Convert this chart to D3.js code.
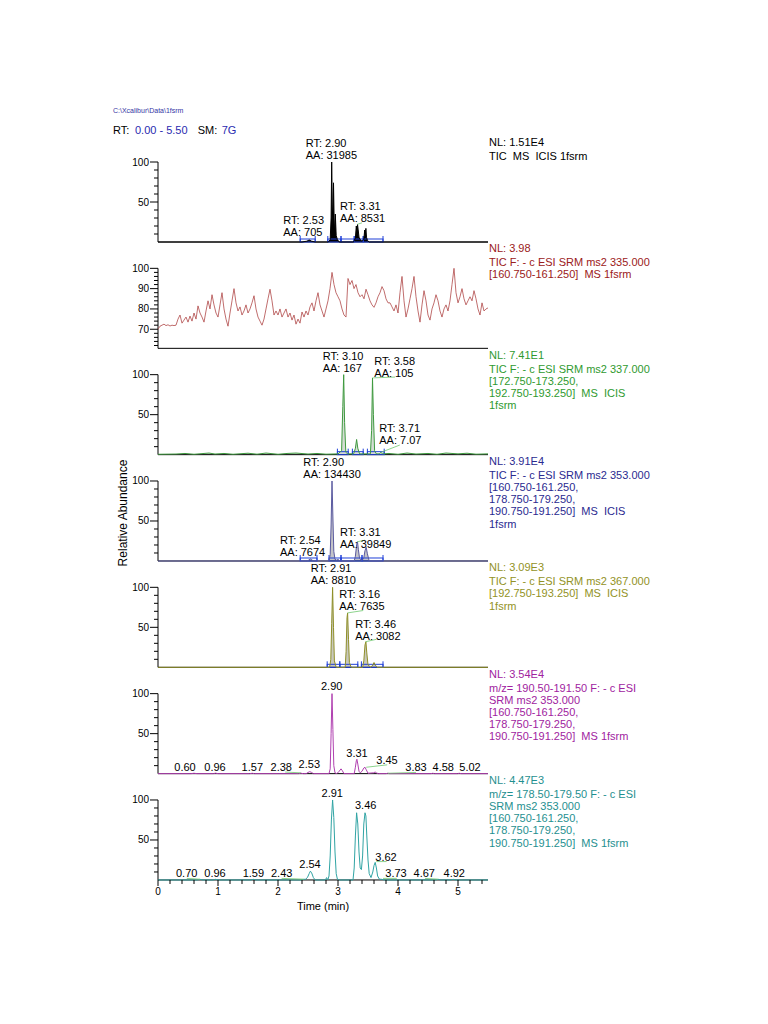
<!DOCTYPE html>
<html><head><meta charset="utf-8">
<script src="https://cdn.jsdelivr.net/npm/d3@7"></script>
<style>
body{margin:0;background:#fff}
svg text{font-family:"Liberation Sans",Arial,Helvetica,sans-serif;white-space:pre}
</style>
</head><body>
<svg id="c" width="768" height="1024"></svg>
<script>
// ---------------- DATA ----------------
const filePath = "C:\\Xcalibur\\Data\\1fsrm";
const rtRange = "0.00 - 5.50";
const smoothing = "7G";
const timeDomain = [0, 5.5];
const xTickValues = [0, 1, 2, 3, 4, 5];
const yTickLabels = [50, 100];
const noiseTickLabels = [70, 80, 90, 100];

// Panel 1: TIC MS ICIS
const p1T = [0, 2.40, 2.48, 2.52, 2.56, 2.62, 2.84, 2.87, 2.885, 2.895, 2.905, 2.915, 2.925, 2.935, 2.945, 2.955, 2.97, 2.99, 3.02, 3.26, 3.29, 3.305, 3.315, 3.325, 3.335, 3.35, 3.37, 3.40, 3.43, 3.445, 3.455, 3.465, 3.475, 3.49, 3.52, 5.5];
const p1V = [0, 0, 1, 2.5, 1, 0, 0, 3, 30, 100, 45, 20, 74, 30, 10, 35, 8, 3, 0, 0, 5, 20, 12, 22, 16, 6, 3, 1, 3, 15, 9, 17, 6, 2, 0, 0];
// Panel 2: SRM 335 (noise), sampled every 1/30 min
const p2Step = 1 / 30;
const p2V = [70, 71.5, 72, 72.5, 71.8, 72.2, 71.6, 72, 71.8, 72,
  75, 77, 73, 74.5, 76, 73.5, 76.5, 74, 78, 75,
  81.5, 78, 76, 73.5, 79, 84, 80, 87, 82, 78,
  76, 82, 88, 80, 75, 71.5, 78, 84, 90, 83,
  79, 81, 77, 79, 82, 78, 80, 83, 86.5, 80,
  76, 74, 72, 75, 80, 85, 89.7, 84, 77, 79,
  77, 80, 76, 78, 80, 76, 78, 74.5, 77, 72.5,
  75, 73, 78.5, 76, 79, 77, 81, 83, 79, 84,
  88, 82, 79, 76, 80, 84, 90, 98, 92, 88,
  86, 84, 80, 77, 76, 95, 92, 94, 90, 92,
  88, 86, 87, 85, 89.7, 87, 84, 82, 80.8, 83,
  86, 88, 91, 89, 85, 83, 83, 81, 79, 82,
  78, 88, 96, 84, 76, 80, 85, 90, 96, 86,
  79, 73.5, 82, 89, 84, 77, 74.5, 80, 83, 87,
  84, 79, 76, 80, 82, 79, 84, 92, 100, 88,
  83, 86, 90, 85, 82, 84, 86, 84, 89, 85,
  80, 77, 83, 79, 80, 80.5];
// Panel 3: SRM 337
const p3T = [0, 0.3, 0.45, 0.6, 0.85, 0.95, 1.1, 1.25, 1.5, 1.65, 1.8, 2.0, 2.15, 2.3, 2.5, 2.65, 2.8, 3.0, 3.06, 3.08, 3.095, 3.11, 3.13, 3.16, 3.26, 3.29, 3.31, 3.33, 3.36, 3.54, 3.56, 3.575, 3.59, 3.61, 3.64, 3.69, 3.715, 3.74, 3.85, 4.0, 4.15, 4.3, 4.5, 4.65, 4.8, 5.0, 5.15, 5.3, 5.5];
const p3V = [0.5, 0.8, 1.5, 0.5, 2, 0.8, 1.5, 0.5, 1.8, 0.6, 2, 0.5, 1.5, 2, 0.8, 1.5, 0.6, 1, 5, 60, 100, 40, 3, 1, 1, 8, 19, 8, 1, 1, 30, 96, 50, 5, 1, 1, 3, 1, 1.5, 0.5, 2, 0.8, 1.5, 0.5, 2, 1, 1.8, 0.6, 1];
// Panel 4: SRM 353 TIC
const p4T = [0, 2.48, 2.51, 2.54, 2.57, 2.60, 2.85, 2.87, 2.885, 2.90, 2.915, 2.93, 2.95, 2.98, 3.0, 3.03, 3.27, 3.29, 3.31, 3.325, 3.34, 3.36, 3.40, 3.43, 3.45, 3.47, 3.49, 3.52, 5.5];
const p4V = [0, 0, 1, 2.5, 1, 0, 0, 8, 45, 100, 55, 12, 2, 1, 2, 0, 0, 6, 20, 24, 14, 3, 0.5, 4, 13, 17, 9, 0, 0];
// Panel 5: SRM 367
const p5T = [0, 2.86, 2.88, 2.895, 2.91, 2.925, 2.94, 2.97, 3.12, 3.135, 3.15, 3.16, 3.175, 3.19, 3.22, 3.41, 3.43, 3.45, 3.465, 3.48, 3.50, 3.55, 3.58, 3.60, 3.62, 3.65, 5.5];
const p5V = [0, 0, 10, 55, 100, 50, 8, 0, 0, 20, 62, 68, 35, 6, 0, 0, 8, 28, 32, 18, 3, 0, 3, 6, 3, 0, 0];
// Panel 6: m/z 190.50-191.50
const p6T = [0, 0.55, 0.6, 0.65, 0.92, 0.96, 1.0, 1.53, 1.57, 1.61, 2.34, 2.38, 2.42, 2.47, 2.50, 2.53, 2.56, 2.59, 2.85, 2.87, 2.885, 2.90, 2.915, 2.93, 2.95, 2.98, 3.02, 3.05, 3.07, 3.10, 3.27, 3.29, 3.305, 3.315, 3.33, 3.35, 3.37, 3.40, 3.43, 3.45, 3.47, 3.50, 3.59, 3.62, 3.64, 3.67, 3.80, 3.83, 3.86, 4.55, 4.58, 4.61, 4.99, 5.02, 5.05, 5.5];
const p6V = [0, 0, 0.5, 0, 0, 0.6, 0, 0, 0.5, 0, 0, 0.6, 0, 0, 1.5, 2.5, 1.5, 0, 0, 6, 50, 100, 55, 10, 1, 0, 3, 6, 4, 0, 0, 8, 16, 18, 12, 3, 1, 3, 7, 8, 5, 0.5, 1, 2, 1, 0, 0, 0.5, 0, 0, 0.5, 0, 0, 0.5, 0, 0];
// Panel 7: m/z 178.50-179.50
const p7T = [0, 0.66, 0.70, 0.74, 0.92, 0.96, 1.0, 1.55, 1.59, 1.63, 2.39, 2.43, 2.46, 2.49, 2.52, 2.54, 2.56, 2.59, 2.62, 2.79, 2.81, 2.83, 2.85, 2.87, 2.89, 2.91, 2.93, 2.95, 2.97, 2.99, 3.02, 3.25, 3.27, 3.29, 3.31, 3.33, 3.35, 3.37, 3.39, 3.41, 3.43, 3.45, 3.465, 3.48, 3.50, 3.52, 3.55, 3.58, 3.60, 3.62, 3.64, 3.66, 3.69, 3.73, 3.77, 4.63, 4.67, 4.71, 4.88, 4.92, 4.96, 5.5];
const p7V = [0, 0, 0.8, 0, 0, 0.8, 0, 0, 0.8, 0, 0, 0.8, 1, 3, 8, 11, 9, 3, 0, 0, 3, 0, 5, 30, 75, 100, 78, 35, 8, 1, 0, 0, 15, 55, 84, 70, 35, 15, 13, 30, 70, 84, 80, 55, 25, 8, 3, 10, 18, 22, 15, 5, 1, 0.8, 0, 0, 0.8, 0, 0, 0.8, 0, 0];

// Panel header texts
const p1Info = ["NL: 1.51E4", "TIC  MS  ICIS 1fsrm"];
const p2Info = ["NL: 3.98", "TIC F: - c ESI SRM ms2 335.000", "[160.750-161.250]  MS 1fsrm"];
const p3Info = ["NL: 7.41E1", "TIC F: - c ESI SRM ms2 337.000", "[172.750-173.250,", "192.750-193.250]  MS  ICIS", "1fsrm"];
const p4Info = ["NL: 3.91E4", "TIC F: - c ESI SRM ms2 353.000", "[160.750-161.250,", "178.750-179.250,", "190.750-191.250]  MS  ICIS", "1fsrm"];
const p5Info = ["NL: 3.09E3", "TIC F: - c ESI SRM ms2 367.000", "[192.750-193.250]  MS  ICIS", "1fsrm"];
const p6Info = ["NL: 3.54E4", "m/z= 190.50-191.50 F: - c ESI", "SRM ms2 353.000", "[160.750-161.250,", "178.750-179.250,", "190.750-191.250]  MS 1fsrm"];
const p7Info = ["NL: 4.47E3", "m/z= 178.50-179.50 F: - c ESI", "SRM ms2 353.000", "[160.750-161.250,", "178.750-179.250,", "190.750-191.250]  MS 1fsrm"];

// Peak annotations
const p1Peaks = [["RT: 2.90", "AA: 31985"], ["RT: 3.31", "AA: 8531"], ["RT: 2.53", "AA: 705"]];
const p3Peaks = [["RT: 3.10", "AA: 167"], ["RT: 3.58", "AA: 105"], ["RT: 3.71", "AA: 7.07"]];
const p4Peaks = [["RT: 2.90", "AA: 134430"], ["RT: 3.31", "AA: 39849"], ["RT: 2.54", "AA: 7674"]];
const p5Peaks = [["RT: 2.91", "AA: 8810"], ["RT: 3.16", "AA: 7635"], ["RT: 3.46", "AA: 3082"]];
const p6Peaks = ["0.60", "0.96", "1.57", "2.38", "2.53", "2.90", "3.31", "3.45", "3.83", "4.58", "5.02"];
const p7Peaks = ["0.70", "0.96", "1.59", "2.43", "2.54", "2.91", "3.46", "3.62", "3.73", "4.67", "4.92"];

// Integration windows (min)
const p1Integ = [[2.37, 2.62], [2.83, 3.05], [3.05, 3.27], [3.27, 3.42], [3.42, 3.75]];
const p3Integ = [[2.99, 3.17], [3.24, 3.42], [3.49, 3.77]];
const p4Integ = [[2.37, 2.65], [2.85, 3.05], [3.05, 3.40], [3.40, 3.75]];
const p5Integ = [[2.82, 3.03], [3.03, 3.33], [3.39, 3.75]];

// ---------------- LAYOUT (label placement in data units) ----------------
const p1LabelPos = [[2.462, 123.4], [3.033, 45], [2.088, 27.5]];
const p3LabelPos = [[2.745, 123.6], [3.605, 117.4], [3.688, 33.6]];
const p4LabelPos = [[2.422, 124.1], [3.033, 36.6], [2.033, 26.3]];
const p5LabelPos = [[2.545, 123.4], [3.022, 90.9], [3.288, 53.4]];
const p6LabelPos = [[0.45, 7.7], [0.95, 7.7], [1.572, 7.7], [2.055, 7.7], [2.522, 11.9], [2.895, 109.4], [3.317, 25.2], [3.817, 16.9], [4.3, 7.7], [4.755, 7.7], [5.2, 7.7]];
const p7LabelPos = [[0.478, 8.4], [0.95, 8.4], [1.589, 8.4], [2.062, 8.4], [2.533, 19.6], [2.905, 109.1], [3.462, 93.8], [3.80, 29.1], [3.967, 8.4], [4.438, 8.4], [4.938, 8.4]];
const p1Leaders = [[3.32, 22, 3.40, 24]];
const p3Leaders = [[3.585, 96, 3.95, 97], [3.72, 3, 4.03, 12]];
const p4Leaders = [[3.32, 24, 3.45, 26]];
const p5Leaders = [[3.16, 68, 3.42, 71], [3.46, 32, 3.64, 35]];
const p6Leaders = [[2.12, 2, 2.38, 1], [3.47, 8, 3.82, 11], [3.83, 0.5, 4.3, 1.5]];
const p7Leaders = [[0.48, 2, 0.70, 1], [2.06, 2, 2.43, 1], [3.64, 23, 3.81, 23], [3.75, 2, 3.98, 2], [4.45, 2, 4.67, 1]];

// ---------------- DRAW ----------------
const svg = d3.select("#c");
const X0 = 158, X1 = 488;
const x = d3.scaleLinear().domain(timeDomain).range([X0, X1]);
const PANEL_TOP = 162, PANEL_STEP = 106.33, PANEL_H = 80;

const zip = (t, v) => t.map((d, i) => [d, v[i]]);
const p2T = p2V.map((_, i) => i * p2Step);

const panels = [
  {pts: zip(p1T, p1V), dom: [0, 100], stroke: "#000", fill: "#000", info: p1Info, infoColor: "#000",
   rt: p1Peaks, rtPos: p1LabelPos, leaders: p1Leaders, integ: p1Integ},
  {pts: zip(p2T, p2V), dom: [60.6, 100], stroke: "#b04848", fill: null, info: p2Info, infoColor: "#9b2020", noise: true},
  {pts: zip(p3T, p3V), dom: [0, 100], stroke: "#3f9a3f", fill: "#d4ddd4", info: p3Info, infoColor: "#2f9a2f",
   rt: p3Peaks, rtPos: p3LabelPos, leaders: p3Leaders, integ: p3Integ},
  {pts: zip(p4T, p4V), dom: [0, 100], stroke: "#5a5aa0", fill: "#c4c4c8", info: p4Info, infoColor: "#2a2a90",
   rt: p4Peaks, rtPos: p4LabelPos, leaders: p4Leaders, integ: p4Integ},
  {pts: zip(p5T, p5V), dom: [0, 100], stroke: "#8f8f28", fill: "#c8c8bc", info: p5Info, infoColor: "#929225",
   rt: p5Peaks, rtPos: p5LabelPos, leaders: p5Leaders, integ: p5Integ},
  {pts: zip(p6T, p6V), dom: [0, 100], stroke: "#b040b0", fill: null, info: p6Info, infoColor: "#a023a0",
   num: p6Peaks, numPos: p6LabelPos, leaders: p6Leaders},
  {pts: zip(p7T, p7V), dom: [0, 100], stroke: "#30a4a4", fill: null, info: p7Info, infoColor: "#1f9090",
   num: p7Peaks, numPos: p7LabelPos, leaders: p7Leaders, xaxis: true},
];

// header
svg.append("text").attr("x", 113).attr("y", 111).attr("dy", "0.35em").attr("font-size", 7)
  .attr("fill", "#3535a5").text(filePath);
const hdr = [["RT:", 113, "#000"], [rtRange, 135, "#2a2ab0"], ["SM:", 197.7, "#000"], [smoothing, 221.7, "#2a2ab0"]];
hdr.forEach(([s, px, c]) => svg.append("text").attr("x", px).attr("y", 130).attr("dy", "0.35em")
  .attr("font-size", 11).attr("fill", c).text(s));

// y label
svg.append("text").attr("transform", "translate(127,513) rotate(-90)").attr("text-anchor", "middle")
  .attr("font-size", 12).attr("fill", "#000").text("Relative Abundance");

panels.forEach((p, k) => {
  const top = PANEL_TOP + PANEL_STEP * k, base = top + PANEL_H;
  const y = d3.scaleLinear().domain(p.dom).range([base, top]);
  const g = svg.append("g");

  // trace
  if (p.fill) {
    g.append("path").datum(p.pts)
      .attr("d", d3.area().x(d => x(d[0])).y0(base).y1(d => y(d[1])))
      .attr("fill", p.fill).attr("stroke", "none");
  }
  // axes
  g.append("line").attr("x1", X0).attr("x2", X1).attr("y1", base).attr("y2", base)
    .attr("stroke", "#000").attr("stroke-width", 1);
  g.append("line").attr("x1", X0).attr("x2", X0).attr("y1", top).attr("y2", base)
    .attr("stroke", "#000").attr("stroke-width", 1);

  let minor, major;
  if (p.noise) { minor = d3.range(62, 100.1, 2); major = noiseTickLabels; }
  else { minor = d3.range(10, 100.1, 10); major = yTickLabels; }
  minor.forEach(v => {
    const isMaj = major.includes(Math.round(v));
    g.append("line").attr("x1", X0 - (isMaj ? 8 : 4)).attr("x2", X0)
      .attr("y1", y(v)).attr("y2", y(v)).attr("stroke", "#000").attr("stroke-width", 1);
  });
  major.forEach(v => g.append("text").attr("x", X0 - 9).attr("y", y(v)).attr("dy", "0.35em")
    .attr("text-anchor", "end").attr("font-size", 10).attr("fill", "#000").text(v));

  // integration markers
  (p.integ || []).forEach(([a, b]) => {
    g.append("rect").attr("x", x(a)).attr("y", base - 3).attr("width", x(b) - x(a)).attr("height", 3)
      .attr("fill", "none").attr("stroke", "#2040d8").attr("stroke-width", 1);
    [a, b].forEach(t => g.append("line").attr("x1", x(t)).attr("x2", x(t)).attr("y1", base - 6).attr("y2", base)
      .attr("stroke", "#2040d8").attr("stroke-width", 1));
  });

  g.append("path").datum(p.pts)
    .attr("d", d3.line().x(d => x(d[0])).y(d => y(d[1])))
    .attr("fill", "none").attr("stroke", p.stroke).attr("stroke-width", p.noise ? 0.8 : 1);

  // leaders
  (p.leaders || []).forEach(([t1, v1, t2, v2]) => g.append("line")
    .attr("x1", x(t1)).attr("y1", y(v1)).attr("x2", x(t2)).attr("y2", y(v2))
    .attr("stroke", "#70c870").attr("stroke-width", 0.8));

  // RT / AA labels
  (p.rt || []).forEach((lines, i) => {
    const [t, v] = p.rtPos[i];
    lines.forEach((s, j) => g.append("text").attr("x", x(t)).attr("y", y(v) + j * 12).attr("dy", "0.35em")
      .attr("font-size", 11).attr("fill", "#000").text(s));
  });
  (p.num || []).forEach((s, i) => {
    const [t, v] = p.numPos[i];
    g.append("text").attr("x", x(t)).attr("y", y(v)).attr("dy", "0.35em").attr("text-anchor", "middle")
      .attr("font-size", 11).attr("fill", "#000").text(s);
  });

  // right info block
  p.info.forEach((s, j) => g.append("text").attr("x", X1 + 1)
    .attr("y", top - 20 + (j === 0 ? 0 : 14 + (j - 1) * 12.2)).attr("dy", "0.35em")
    .attr("font-size", 11).attr("fill", p.infoColor).text(s));

  // bottom x axis
  if (p.xaxis) {
    d3.range(0, 5.41, 0.2).forEach(t => {
      const isMaj = Math.abs(t - Math.round(t)) < 1e-6;
      g.append("line").attr("x1", x(t)).attr("x2", x(t)).attr("y1", base).attr("y2", base + (isMaj ? 6 : 4))
        .attr("stroke", "#000").attr("stroke-width", 1);
    });
    xTickValues.forEach(t => g.append("text").attr("x", x(t)).attr("y", base + 12).attr("dy", "0.35em")
      .attr("text-anchor", "middle").attr("font-size", 10).attr("fill", "#000").text(t));
    g.append("text").attr("x", x(2.75)).attr("y", base + 26).attr("dy", "0.35em").attr("text-anchor", "middle")
      .attr("font-size", 11).attr("fill", "#000").text("Time (min)");
  }
});
</script>
</body></html>
